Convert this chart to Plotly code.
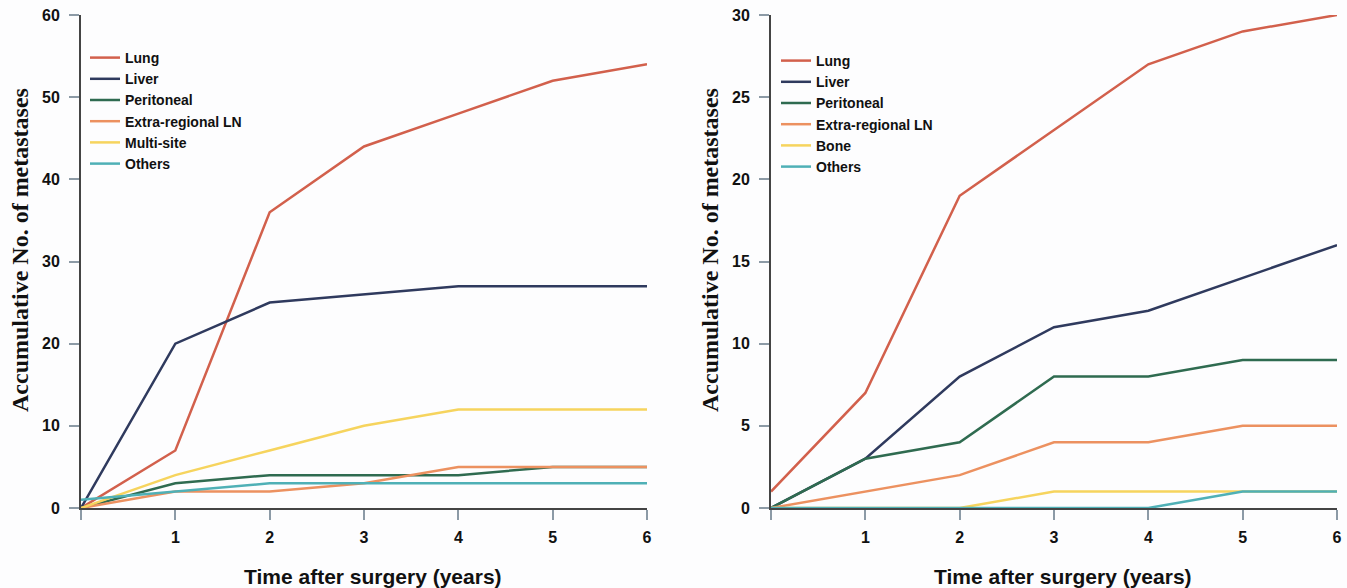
import plotly.graph_objects as go

years = [0, 1, 2, 3, 4, 5, 6]
x_tick_text = ["", "1", "2", "3", "4", "5", "6"]

# Left panel
left_names = ["Lung", "Liver", "Peritoneal", "Extra-regional LN", "Multi-site", "Others"]
left_lung = [0, 7, 36, 44, 48, 52, 54]
left_liver = [0, 20, 25, 26, 27, 27, 27]
left_peritoneal = [0, 3, 4, 4, 4, 5, 5]
left_ln = [0, 2, 2, 3, 5, 5, 5]
left_multi = [0, 4, 7, 10, 12, 12, 12]
left_others = [1, 2, 3, 3, 3, 3, 3]
left_yticks = [0, 10, 20, 30, 40, 50, 60]

# Right panel
right_names = ["Lung", "Liver", "Peritoneal", "Extra-regional LN", "Bone", "Others"]
right_lung = [1, 7, 19, 23, 27, 29, 30]
right_liver = [0, 3, 8, 11, 12, 14, 16]
right_peritoneal = [0, 3, 4, 8, 8, 9, 9]
right_ln = [0, 1, 2, 4, 4, 5, 5]
right_bone = [0, 0, 0, 1, 1, 1, 1]
right_others = [0, 0, 0, 0, 0, 1, 1]
right_yticks = [0, 5, 10, 15, 20, 25, 30]

colors = ["#d2604c", "#2f3a5e", "#2f6b50", "#ec9160", "#f6d45e", "#4fb0b6"]

W, H = 1347, 588
def px(x):
    return x / W
def py(y):
    return 1 - y / H

fig = go.Figure()

left_series = [left_lung, left_liver, left_peritoneal, left_ln, left_multi, left_others]
right_series = [right_lung, right_liver, right_peritoneal, right_ln, right_bone, right_others]

for name, vals, c in zip(left_names, left_series, colors):
    fig.add_trace(go.Scatter(x=years, y=vals, mode="lines", name=name,
                             line=dict(color=c, width=2.5), xaxis="x", yaxis="y",
                             legend="legend"))
for name, vals, c in zip(right_names, right_series, colors):
    fig.add_trace(go.Scatter(x=years, y=vals, mode="lines", name=name,
                             line=dict(color=c, width=2.5), xaxis="x2", yaxis="y2",
                             legend="legend2"))

tickfont = dict(family="Liberation Sans", size=16, color="#111111", weight="bold")
axis_common = dict(showgrid=False, zeroline=False, showline=True, linecolor="#444444",
                   linewidth=2, ticks="outside", ticklen=10, tickwidth=1.5,
                   tickcolor="#8c9aa6", tickfont=tickfont, layer="above traces",
                   automargin=False, ticklabeloverflow="allow")

legend_font = dict(family="Liberation Sans", size=14, color="#111111", weight="bold")

fig.update_layout(
    template="none",
    width=W, height=H,
    margin=dict(l=0, r=0, t=0, b=0, pad=0),
    paper_bgcolor="#fdfdfe", plot_bgcolor="#fdfdfe",
    xaxis=dict(domain=[px(81), px(647)], range=[0, 6], anchor="y",
               tickvals=years, ticktext=x_tick_text, ticklabelstandoff=4, **axis_common),
    yaxis=dict(domain=[py(508), py(15)], range=[0, 60], anchor="x",
               tickvals=left_yticks, ticklabelstandoff=6, **axis_common),
    xaxis2=dict(domain=[px(771), px(1337)], range=[0, 6], anchor="y2",
                tickvals=years, ticktext=x_tick_text, ticklabelstandoff=4, **axis_common),
    yaxis2=dict(domain=[py(508), py(15)], range=[0, 30], anchor="x2",
                tickvals=right_yticks, ticklabelstandoff=6, **axis_common),
    legend=dict(x=px(85), y=py(42), xanchor="left", yanchor="top",
                bgcolor="rgba(0,0,0,0)", itemwidth=30, borderwidth=0,
                font=legend_font),
    legend2=dict(x=px(776), y=py(45), xanchor="left", yanchor="top",
                 bgcolor="rgba(0,0,0,0)", itemwidth=30, borderwidth=0,
                 font=legend_font),
    showlegend=True,
)

ytitle_font = dict(family="Liberation Serif", size=24, color="#111111", weight="bold")
xtitle_font = dict(family="Liberation Sans", size=21, color="#111111", weight="bold")
common_ann = dict(xref="paper", yref="paper", showarrow=False,
                  xanchor="center", yanchor="middle")
annotations = [
    dict(text="Accumulative No. of metastases", x=px(20), y=py(250), textangle=-90,
         font=ytitle_font, **common_ann),
    dict(text="Accumulative No. of metastases", x=px(710), y=py(250), textangle=-90,
         font=ytitle_font, **common_ann),
    dict(text="Time after surgery (years)", x=px(373), y=py(576),
         font=xtitle_font, **common_ann),
    dict(text="Time after surgery (years)", x=px(1063), y=py(576),
         font=xtitle_font, **common_ann),
]
fig.update_layout(annotations=annotations)

# remove the default page margin so the figure fills the window exactly
fig.write_html("out.html", config={"displayModeBar": False},
               post_script="document.body.style.margin='0';document.body.style.overflow='hidden';")
